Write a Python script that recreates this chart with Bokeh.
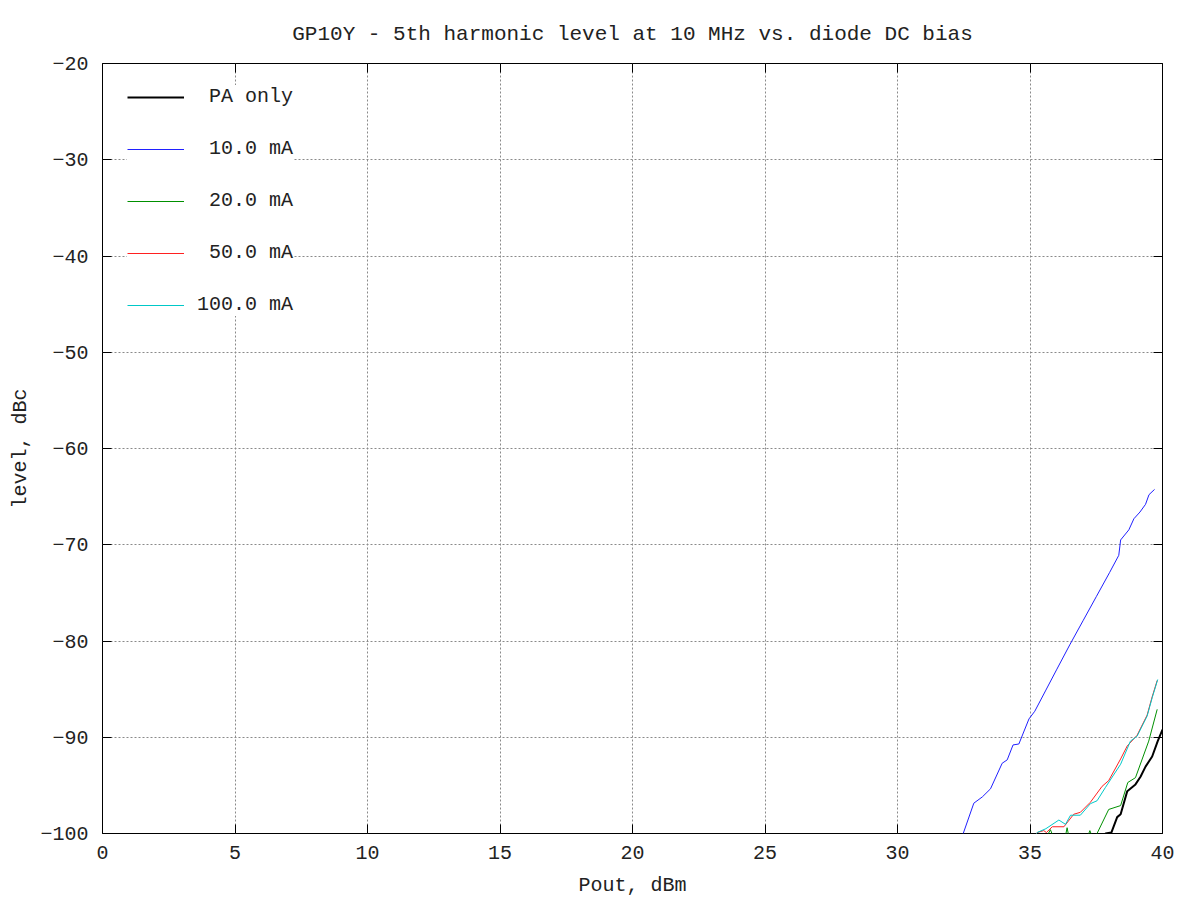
from bokeh.plotting import figure
from bokeh.models import LinearAxis, Legend, LegendItem, FixedTicker, Range1d, CustomJSTickFormatter
from bokeh.embed import file_html
from bokeh.resources import INLINE

FONT = "Liberation Mono"

title_text = "GP10Y - 5th harmonic level at 10 MHz vs. diode DC bias"
x_label = "Pout, dBm"
y_label = "level, dBc"
x_ticks = [0, 5, 10, 15, 20, 25, 30, 35, 40]
y_ticks = [-100, -90, -80, -70, -60, -50, -40, -30, -20]

# PA only
pa_x = [37.6, 37.85, 38.07, 38.29, 38.42, 38.67, 38.98, 39.17, 39.36, 39.61, 39.82, 40.0]
pa_y = [-101.0, -100.0, -99.9, -98.3, -98.0, -95.6, -94.9, -94.1, -93.05, -92.0, -90.4, -89.2]

# 10.0 mA
b10_x = [32.2, 32.48, 32.88, 33.2, 33.51, 33.95, 34.14, 34.36, 34.58, 34.96, 35.18, 35.6, 36.0,
         36.5, 37.0, 37.5, 38.0, 38.35, 38.42, 38.73, 38.92, 39.15, 39.36, 39.49, 39.7]
b10_y = [-102.0, -100.0, -96.85, -96.2, -95.36, -92.7, -92.35, -90.8, -90.7, -88.1, -87.3, -85.1, -83.0,
         -80.4, -77.9, -75.4, -72.9, -71.1, -69.5, -68.45, -67.3, -66.6, -65.8, -64.8, -64.25]

# 20.0 mA
b20_x = [35.3, 35.6, 35.77, 35.9, 36.3, 36.4, 36.5, 37.15, 37.26, 37.37, 37.53, 37.97, 38.42,
         38.69, 38.98, 39.48, 39.8]
b20_y = [-101.0, -100.5, -99.6, -100.5, -100.8, -99.4, -100.8, -100.5, -99.7, -100.5, -100.0, -97.5, -97.1,
         -94.7, -94.2, -90.4, -87.1]

# 50.0 mA
b50_x = [35.0, 35.27, 35.52, 35.62, 35.84, 36.28, 36.65, 36.9, 37.28, 37.72, 37.97, 38.42, 38.67,
         39.04, 39.42, 39.61, 39.8]
b50_y = [-101.0, -99.9, -99.7, -99.9, -99.3, -99.3, -98.0, -97.8, -96.75, -95.1, -94.5, -92.25, -90.9,
         -89.8, -87.7, -85.8, -84.1]

# 100.0 mA
b100_x = [35.0, 35.27, 35.6, 36.09, 36.34, 36.53, 36.9, 37.28, 37.53, 37.85, 38.42, 38.79, 39.04,
          39.42, 39.61, 39.82]
b100_y = [-101.0, -99.9, -99.5, -98.6, -99.05, -98.1, -98.1, -96.9, -96.6, -95.2, -92.8, -90.4, -89.9,
          -87.8, -85.9, -84.0]

labels = ["\u00a0PA only", "\u00a010.0 mA", "\u00a020.0 mA", "\u00a050.0 mA", "100.0 mA"]

p = figure(width=1200, height=900, x_range=Range1d(0, 40), y_range=Range1d(-100, -20),
           output_backend="svg", toolbar_location=None,
           min_border_left=102, min_border_top=63, min_border_right=38, min_border_bottom=67)

p.title.text = title_text
p.title.align = "center"
p.title.text_font = FONT
p.title.text_font_size = "21px"
p.title.text_font_style = "normal"
p.title.text_color = "#222222"
p.title.standoff = 36

p.outline_line_color = "black"
p.outline_line_width = 1
p.background_fill_color = "white"
p.border_fill_color = "white"

for ax, ticks, lab in ((p.xaxis[0], x_ticks, x_label), (p.yaxis[0], y_ticks, y_label)):
    ax.ticker = FixedTicker(ticks=ticks)
    ax.axis_label = lab
    ax.axis_label_text_font = FONT
    ax.axis_label_text_font_size = "20px"
    ax.axis_label_text_font_style = "normal"
    ax.axis_label_text_color = "#222222"
    ax.major_label_text_font = FONT
    ax.major_label_text_font_size = "20px"
    ax.major_label_text_color = "#222222"
    ax.major_tick_in = 9
    ax.major_tick_out = 0
    ax.minor_tick_in = 0
    ax.minor_tick_out = 0
    ax.axis_line_color = None
    ax.major_tick_line_color = "black"

p.xaxis[0].major_label_standoff = 12
p.xaxis[0].axis_label_standoff = 12
p.yaxis[0].major_label_standoff = 14
p.yaxis[0].axis_label_standoff = 5

blank = CustomJSTickFormatter(code="return ''")
p.add_layout(LinearAxis(ticker=FixedTicker(ticks=y_ticks), major_tick_in=9, major_tick_out=0,
                        minor_tick_in=0, minor_tick_out=0, formatter=blank,
                        major_label_standoff=0, axis_line_color=None), "right")
p.add_layout(LinearAxis(ticker=FixedTicker(ticks=x_ticks), major_tick_in=9, major_tick_out=0,
                        minor_tick_in=0, minor_tick_out=0, formatter=blank,
                        major_label_standoff=0, axis_line_color=None), "above")

p.xgrid[0].ticker = FixedTicker(ticks=x_ticks)
p.ygrid[0].ticker = FixedTicker(ticks=y_ticks)
for g in (p.xgrid[0], p.ygrid[0]):
    g.grid_line_color = "#8a8a8a"
    g.grid_line_dash = "2 2"
    g.grid_line_width = 1

r_pa = p.line(pa_x, pa_y, line_color="black", line_width=2)
r10 = p.line(b10_x, b10_y, line_color="#2020ff", line_width=1)
r20 = p.line(b20_x, b20_y, line_color="#009000", line_width=1)
r50 = p.line(b50_x, b50_y, line_color="#ff2020", line_width=1)
r100 = p.line(b100_x, b100_y, line_color="#00c8c8", line_width=1)

legend = Legend(items=[LegendItem(label=l, renderers=[r]) for l, r in
                       zip(labels, [r_pa, r10, r20, r50, r100])],
                location=(25, 517), margin=0, padding=0, spacing=29,
                glyph_width=57, glyph_height=20, label_height=20, label_standoff=13,
                label_text_font=FONT, label_text_font_size="20px", label_text_color="#222222",
                background_fill_color="white", background_fill_alpha=1.0,
                border_line_color=None)
p.add_layout(legend)

open("out.html", "w").write(file_html(p, INLINE))
